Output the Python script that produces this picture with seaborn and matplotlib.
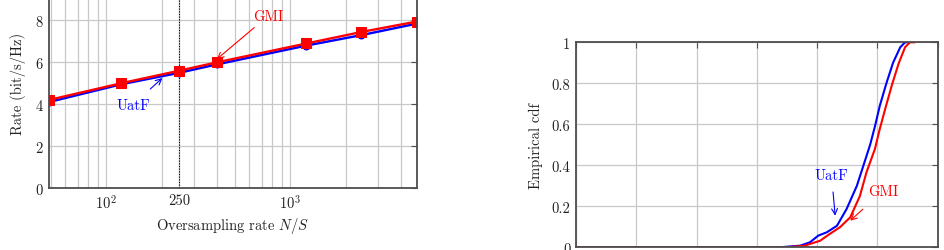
import matplotlib
matplotlib.use("Agg")
import matplotlib.pyplot as plt
import seaborn as sns
import numpy as np
from matplotlib.ticker import FixedLocator, NullFormatter, LogLocator

# ---------------- data ----------------
oversampling = [49, 121, 250, 400, 1222, 2430, 4860]
rate_gmi = [4.2, 5.0, 5.6, 6.0, 6.9, 7.45, 7.95]
rate_uatf = [4.1, 4.95, 5.5, 5.9, 6.8, 7.3, 7.85]
x_ticks_left = [100, 250, 1000]
x_ticklabels_left = [r"$10^2$", "250", r"$10^3$"]
y_ticks_left = [0, 2, 4, 6, 8]

cdf_uatf_x = [0.0, 3.38, 3.72, 3.88, 4.02, 4.16, 4.33, 4.49, 4.66, 4.77, 4.88, 4.96, 5.04, 5.15, 5.26, 5.38, 5.46, 5.5]
cdf_uatf_y = [0.0, 0.0, 0.008, 0.024, 0.057, 0.073, 0.105, 0.187, 0.30, 0.40, 0.50, 0.59, 0.69, 0.80, 0.90, 0.976, 1.0, 1.0]
cdf_gmi_x = [0.0, 3.50, 3.80, 3.88, 4.05, 4.21, 4.38, 4.55, 4.71, 4.82, 4.96, 5.04, 5.13, 5.24, 5.35, 5.46, 5.54, 5.62]
cdf_gmi_y = [0.0, 0.0, 0.008, 0.016, 0.032, 0.065, 0.098, 0.146, 0.25, 0.366, 0.48, 0.577, 0.675, 0.79, 0.894, 0.976, 1.0, 1.0]
y_ticks_right = [0, 0.2, 0.4, 0.6, 0.8, 1]
x_ticks_right = [0, 1, 2, 3, 4, 5, 6]

# ---------------- style ----------------
sns.set_theme(style="white")
plt.rcParams.update({
    "font.family": ["serif"],
    "font.serif": ["cmr10", "DejaVu Serif"],
    "mathtext.fontset": "cm",
    "axes.formatter.use_mathtext": True,
    "axes.unicode_minus": False,
    "font.size": 10.5,
})

RED = "#ff0000"
BLUE = "#0000ff"
SPINE = "#4d4d4d"
GRID = "#c8c8c8"

fig = plt.figure(figsize=(9.45, 2.51), dpi=100)
ax1 = fig.add_axes([0.0519, 0.248, 0.3892, 0.833])
ax2 = fig.add_axes([0.6095, 0.0108, 0.3827, 0.8167])

def style_axes(ax):
    for s in ax.spines.values():
        s.set_color(SPINE)
        s.set_linewidth(1.3)
    ax.tick_params(which="both", direction="in", top=True, right=True,
                   color=SPINE, labelsize=10.5, labelcolor="#222222", pad=4)
    ax.tick_params(which="major", length=4, width=0.8)
    ax.tick_params(which="minor", length=2, width=0.6)

# ---------------- left panel ----------------
sns.lineplot(x=oversampling, y=rate_uatf, ax=ax1, color=BLUE, lw=1.7,
             marker="o", markersize=5, markeredgecolor=BLUE, markerfacecolor=BLUE)
sns.lineplot(x=oversampling, y=rate_gmi, ax=ax1, color=RED, lw=1.7,
             marker="s", markersize=6.5, markeredgecolor=RED, markerfacecolor=RED)
ax1.set_xscale("log")
ax1.set_xlim(49, 4860)
ax1.set_ylim(0, 10)
ax1.xaxis.set_major_locator(FixedLocator(x_ticks_left))
ax1.set_xticklabels(x_ticklabels_left)
ax1.xaxis.set_minor_locator(LogLocator(base=10, subs=np.arange(2, 10), numticks=20))
ax1.xaxis.set_minor_formatter(NullFormatter())
ax1.set_yticks(y_ticks_left)
ax1.grid(True, which="major", axis="y", color=GRID, lw=0.9)
ax1.grid(True, which="both", axis="x", color=GRID, lw=0.9)
ax1.set_axisbelow(True)
ax1.axvline(250, color="black", ls=(0, (1.2, 1.2)), lw=0.8, zorder=1.5)
ax1.set_xlabel(r"Oversampling rate $N/S$", fontsize=10.5, color="#222222", labelpad=3)
ax1.set_ylabel("Rate (bit/s/Hz)", fontsize=10.5, color="#222222", labelpad=6)
style_axes(ax1)

ax1.annotate("GMI", xy=(399, 6.15), xytext=(760, 8.23), color=RED, fontsize=10.5,
             ha="center", va="center",
             arrowprops=dict(arrowstyle="->", color=RED, lw=0.8, shrinkA=2, shrinkB=0))
ax1.annotate("UatF", xy=(202, 5.25), xytext=(140, 3.97), color=BLUE, fontsize=10.5,
             ha="center", va="center",
             arrowprops=dict(arrowstyle="->", color=BLUE, lw=0.8, shrinkA=6, shrinkB=0))

# ---------------- right panel ----------------
sns.lineplot(x=cdf_uatf_x, y=cdf_uatf_y, ax=ax2, color=BLUE, lw=1.5,
             sort=False, estimator=None)
sns.lineplot(x=cdf_gmi_x, y=cdf_gmi_y, ax=ax2, color=RED, lw=1.5,
             sort=False, estimator=None)
ax2.set_xlim(0, 6)
ax2.set_ylim(0, 1)
ax2.set_xticks(x_ticks_right)
ax2.set_xticklabels([])
ax2.set_yticks(y_ticks_right)
ax2.set_yticklabels(["0", "0.2", "0.4", "0.6", "0.8", "1"])
ax2.grid(True, which="major", color=GRID, lw=0.9)
ax2.set_axisbelow(True)
ax2.set_ylabel("Empirical cdf", fontsize=10.5, color="#222222", labelpad=6)
style_axes(ax2)

ax2.annotate("UatF", xy=(4.30, 0.154), xytext=(4.24, 0.353), color=BLUE, fontsize=10.5,
             ha="center", va="center",
             arrowprops=dict(arrowstyle="->", color=BLUE, lw=0.8, shrinkA=5, shrinkB=0))
ax2.annotate("GMI", xy=(4.55, 0.13), xytext=(5.10, 0.276), color=RED, fontsize=10.5,
             ha="center", va="center",
             arrowprops=dict(arrowstyle="->", color=RED, lw=0.8, shrinkA=9, shrinkB=0))

fig.savefig("out.png", dpi=100)
